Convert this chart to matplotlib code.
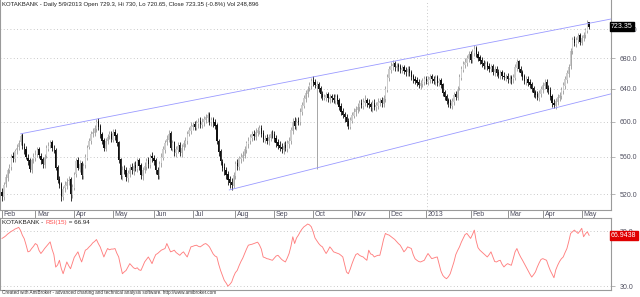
import numpy as np
import matplotlib
matplotlib.use('Agg')
import matplotlib.pyplot as plt
import matplotlib.transforms as mtrans

opens = [
522, 517, 531, 537, 546, 549, 561, 557, 567, 571,
576, 584, 571, 569, 559, 556, 546, 557, 559, 563,
568, 561, 557, 551, 561, 569, 573, 576, 569, 567,
549, 536, 531, 517, 526, 529, 534, 536, 519, 527,
541, 556, 547, 553, 539, 551, 559, 571, 577, 586,
587, 591, 601, 595, 586, 579, 569, 577, 583, 586,
579, 588, 584, 576, 557, 539, 547, 546, 537, 541,
549, 544, 551, 547, 556, 551, 539, 546, 549, 556,
551, 561, 559, 556, 546, 539, 553, 559, 567, 576,
579, 587, 569, 576, 564, 567, 573, 564, 571, 574,
577, 586, 589, 594, 597, 593, 597, 601, 596, 599,
602, 604, 609, 599, 603, 599, 596, 577, 566, 554,
549, 546, 541, 536, 533, 529, 539, 553, 549, 557,
559, 561, 567, 574, 577, 581, 586, 582, 587, 589,
593, 587, 579, 581, 577, 581, 586, 586, 581, 576,
573, 571, 567, 573, 569, 574, 577, 589, 601, 594,
601, 599, 611, 619, 627, 634, 641, 644, 651, 649,
644, 646, 641, 634, 629, 629, 633, 627, 631, 629,
625, 631, 626, 619, 613, 609, 606, 601, 594, 601,
607, 611, 614, 617, 623, 619, 623, 626, 623, 621,
616, 623, 617, 619, 623, 626, 621, 627, 639, 654,
664, 669, 673, 667, 671, 669, 664, 668, 664, 661,
666, 661, 656, 653, 651, 649, 644, 646, 649, 653,
649, 651, 656, 653, 649, 655, 647, 651, 646, 636,
631, 626, 623, 619, 624, 633, 629, 641, 654, 664,
671, 674, 679, 686, 677, 687, 693, 686, 681, 677,
673, 669, 673, 669, 665, 669, 661, 666, 661, 657,
661, 657, 654, 656, 651, 655, 652, 654, 667, 676,
666, 661, 656, 649, 653, 649, 646, 641, 636, 633,
629, 634, 639, 644, 649, 641, 639, 631, 623, 619,
624, 629, 631, 637, 644, 651, 659, 669, 689, 706,
699, 704, 711, 701, 707, 711, 717, 729.3]

highs = [
526, 533, 541, 548, 552, 563, 565, 569, 574, 579,
586, 587, 575, 572, 563, 559, 559, 564, 567, 571,
571, 564, 560, 563, 573, 576, 579, 579, 573, 570,
551, 539, 533, 529, 534, 537, 539, 538, 531, 543,
558, 560, 556, 555, 553, 563, 573, 581, 589, 592,
596, 603, 604, 597, 588, 581, 581, 586, 589, 589,
591, 591, 587, 578, 559, 550, 551, 549, 546, 552,
553, 554, 555, 558, 559, 553, 549, 554, 558, 560,
563, 565, 562, 558, 549, 555, 564, 572, 579, 584,
590, 589, 579, 578, 572, 576, 576, 574, 579, 582,
589, 594, 599, 600, 601, 602, 604, 605, 604, 607,
609, 612, 611, 606, 606, 603, 598, 580, 568, 557,
553, 549, 544, 539, 537, 543, 555, 557, 561, 564,
566, 572, 578, 582, 586, 589, 590, 592, 594, 596,
596, 590, 584, 585, 586, 589, 590, 589, 584, 580,
577, 575, 576, 577, 579, 582, 594, 604, 605, 604,
606, 616, 624, 632, 639, 644, 649, 654, 656, 652,
650, 649, 644, 637, 634, 636, 636, 634, 634, 633,
634, 634, 629, 622, 616, 612, 609, 604, 606, 612,
616, 619, 622, 626, 627, 628, 632, 629, 627, 624,
626, 627, 624, 628, 629, 630, 632, 644, 659, 670,
675, 677, 676, 674, 674, 672, 671, 671, 668, 669,
669, 664, 659, 657, 655, 652, 651, 654, 656, 657,
656, 659, 659, 657, 658, 658, 654, 654, 648, 639,
634, 629, 627, 629, 636, 637, 644, 659, 669, 676,
680, 684, 690, 689, 692, 697, 696, 689, 684, 681,
677, 676, 676, 673, 672, 672, 669, 669, 665, 664,
664, 661, 659, 660, 658, 658, 659, 672, 679, 678,
669, 664, 659, 656, 656, 652, 649, 644, 639, 637,
639, 644, 649, 652, 652, 645, 642, 634, 627, 629,
634, 636, 642, 649, 656, 664, 672, 694, 709, 710,
709, 714, 714, 712, 716, 722, 733, 730]

lows = [
513, 514, 528, 534, 542, 546, 554, 554, 563, 567,
573, 569, 563, 557, 551, 543, 542, 553, 555, 560,
558, 552, 548, 548, 558, 566, 570, 566, 564, 545,
532, 526, 513, 514, 522, 525, 530, 513, 516, 524,
538, 545, 543, 536, 536, 548, 556, 568, 574, 582,
583, 588, 590, 581, 574, 566, 566, 574, 580, 576,
576, 579, 572, 553, 536, 535, 541, 534, 533, 538,
541, 540, 544, 543, 546, 536, 535, 542, 546, 548,
548, 554, 551, 541, 536, 536, 549, 556, 564, 573,
576, 567, 566, 561, 560, 564, 561, 560, 567, 571,
574, 583, 586, 590, 590, 590, 593, 593, 592, 595,
598, 600, 596, 595, 594, 591, 574, 561, 551, 544,
540, 536, 530, 527, 524, 526, 536, 546, 546, 553,
555, 558, 564, 570, 574, 578, 579, 579, 583, 585,
582, 576, 575, 574, 573, 577, 581, 576, 571, 568,
566, 564, 563, 566, 565, 570, 574, 586, 591, 590,
596, 596, 608, 616, 624, 630, 637, 640, 644, 641,
547, 636, 629, 626, 626, 625, 624, 623, 624, 622,
621, 621, 614, 608, 604, 600, 595, 591, 591, 598,
604, 607, 610, 613, 616, 615, 619, 618, 616, 613,
612, 614, 613, 615, 619, 618, 617, 624, 636, 650,
660, 664, 663, 663, 663, 660, 660, 659, 657, 657,
656, 651, 648, 646, 644, 641, 640, 642, 645, 646,
645, 647, 648, 646, 645, 644, 643, 641, 631, 626,
621, 618, 616, 615, 620, 626, 626, 638, 651, 661,
667, 670, 675, 674, 674, 683, 681, 676, 672, 668,
666, 665, 664, 662, 661, 658, 657, 656, 654, 653,
652, 651, 650, 648, 647, 646, 648, 651, 663, 661,
656, 651, 646, 645, 644, 641, 636, 630, 628, 626,
625, 630, 635, 640, 636, 633, 626, 617, 616, 615,
620, 625, 627, 633, 640, 647, 655, 666, 686, 696,
695, 700, 698, 697, 703, 707, 714, 720.65]

closes = [
518, 530, 538, 545, 548, 560, 558, 566, 570, 575,
583, 572, 568, 560, 555, 547, 556, 560, 562, 567,
562, 556, 552, 560, 570, 572, 575, 570, 568, 548,
535, 530, 518, 525, 530, 533, 535, 520, 528, 540,
555, 548, 552, 540, 550, 560, 570, 578, 585, 588,
592, 600, 594, 585, 578, 570, 578, 582, 585, 580,
587, 583, 575, 556, 540, 546, 545, 538, 542, 548,
545, 550, 548, 555, 550, 540, 545, 550, 555, 552,
560, 558, 555, 545, 540, 552, 560, 568, 575, 580,
586, 570, 575, 565, 568, 572, 565, 570, 575, 578,
585, 590, 595, 596, 594, 598, 600, 597, 600, 603,
605, 608, 600, 602, 598, 595, 578, 565, 555, 548,
545, 540, 535, 532, 530, 540, 552, 550, 558, 560,
562, 568, 575, 578, 582, 585, 583, 588, 590, 592,
586, 580, 580, 578, 582, 585, 585, 580, 575, 572,
570, 568, 572, 570, 575, 578, 590, 600, 595, 600,
600, 612, 620, 628, 635, 640, 645, 650, 648, 645,
645, 640, 633, 630, 630, 632, 628, 630, 628, 626,
630, 625, 618, 612, 608, 605, 600, 595, 602, 608,
612, 615, 618, 622, 620, 624, 625, 622, 620, 617,
622, 618, 620, 624, 625, 622, 628, 640, 655, 665,
670, 672, 668, 670, 668, 665, 667, 663, 662, 665,
660, 655, 652, 650, 648, 645, 647, 650, 652, 650,
652, 655, 652, 650, 654, 648, 650, 645, 635, 630,
625, 622, 620, 625, 632, 630, 640, 655, 665, 672,
675, 680, 685, 678, 688, 692, 685, 680, 676, 672,
670, 672, 668, 666, 668, 662, 665, 660, 658, 660,
656, 655, 655, 652, 654, 653, 655, 668, 675, 665,
660, 655, 650, 652, 648, 645, 640, 635, 632, 630,
635, 640, 645, 648, 640, 638, 630, 622, 620, 625,
630, 632, 638, 645, 652, 660, 668, 690, 705, 700,
705, 710, 702, 708, 712, 718, 729.2, 723.35]

rsi15 = [
64.7, 65.5, 66.5, 67.8, 68.8, 69.8, 70.5, 71.5, 72.0, 72.7,
70.5, 67.0, 64.5, 60.0, 55.0, 55.5, 57.4, 59.0, 61.0, 60.0,
56.0, 53.8, 55.5, 57.4, 59.0, 60.5, 62.2, 57.0, 53.0, 44.0,
45.5, 48.9, 43.0, 39.2, 43.5, 47.7, 45.0, 42.8, 47.0, 51.0,
53.0, 55.0, 51.0, 47.7, 52.0, 56.2, 57.0, 58.5, 59.8, 61.5,
62.5, 63.9, 61.0, 58.6, 55.0, 51.3, 54.5, 57.4, 56.5, 57.0,
57.0, 57.4, 54.0, 51.3, 45.0, 39.2, 40.5, 41.6, 44.0, 46.5,
45.0, 43.5, 42.8, 43.5, 42.0, 41.6, 44.5, 47.7, 49.5, 51.3,
49.0, 46.5, 50.0, 53.0, 53.8, 55.0, 56.2, 56.8, 57.4, 61.0,
58.0, 55.0, 55.5, 56.2, 54.5, 53.5, 52.5, 54.0, 55.0, 53.0,
51.3, 55.0, 58.6, 59.0, 59.5, 59.8, 59.0, 58.6, 59.5, 60.5,
61.0, 60.0, 58.6, 56.0, 53.5, 52.0, 51.3, 46.0, 41.6, 38.0,
34.4, 32.5, 30.2, 31.5, 33.2, 37.0, 40.0, 41.6, 45.0, 48.0,
50.5, 53.8, 57.0, 59.8, 60.2, 60.5, 61.0, 61.5, 62.0, 60.0,
57.0, 51.3, 50.8, 50.1, 49.8, 49.3, 48.9, 50.5, 52.0, 52.5,
51.0, 49.5, 48.5, 47.7, 50.5, 53.8, 59.0, 65.9, 61.0, 65.0,
67.0, 69.5, 71.5, 73.1, 74.0, 75.1, 74.5, 73.1, 69.5, 65.0,
63.0, 61.0, 59.5, 58.6, 56.0, 53.8, 56.0, 58.6, 57.0, 55.0,
54.5, 54.0, 53.5, 52.5, 51.3, 46.0, 40.4, 39.2, 42.5, 46.5,
50.0, 53.0, 53.8, 52.5, 51.8, 51.3, 50.0, 48.9, 56.2, 53.5,
53.0, 51.3, 52.0, 52.5, 52.5, 58.0, 64.0, 68.3, 67.5, 67.1,
66.0, 65.0, 64.0, 62.5, 61.0, 59.8, 57.5, 55.0, 56.5, 58.6,
58.0, 57.4, 53.0, 50.0, 48.9, 48.0, 47.7, 48.3, 48.9, 51.5,
53.8, 52.0, 50.1, 50.5, 51.0, 51.3, 46.0, 41.0, 38.0, 36.5,
35.6, 37.0, 39.2, 43.5, 47.7, 53.0, 56.0, 58.6, 62.0, 64.7,
67.5, 68.3, 66.5, 64.7, 67.5, 70.7, 63.0, 58.0, 56.2, 55.0,
53.8, 52.5, 51.3, 53.0, 55.0, 51.5, 48.0, 47.7, 48.5, 48.9,
46.0, 44.1, 45.5, 46.5, 45.8, 45.3, 50.0, 55.0, 57.4, 54.0,
51.3, 49.0, 46.5, 44.0, 41.6, 39.0, 36.8, 38.5, 40.5, 44.0,
47.0, 49.5, 50.1, 49.5, 48.9, 45.0, 41.6, 39.0, 36.3, 42.0,
45.3, 48.0, 50.0, 51.3, 54.5, 57.4, 62.5, 68.3, 69.5, 70.7,
69.5, 68.3, 70.0, 72.0, 65.9, 68.0, 69.5, 66.94]

month_labels = ['Feb', 'Mar', 'Apr', 'May', 'Jun', 'Jul', 'Aug', 'Sep', 'Oct',
                'Nov', 'Dec', '2013', 'Feb', 'Mar', 'Apr', 'May']
month_start_bar = [0, 18, 39, 60, 82, 103, 126, 147, 168, 189, 209, 229, 253, 273, 292, 313]
price_ticks = [520, 560, 600, 640, 680, 720]
rsi_ticks = [30, 70]
upper_channel_bar = [10.1, 328.8]
upper_channel_price = [585.8, 734.3]
lower_channel_bar = [122.7, 328.8]
lower_channel_price = [524.5, 633.7]

title_text = "KOTAKBANK - Daily 5/9/2013 Open 729.3, Hi 730, Lo 720.65, Close 723.35 (-0.8%) Vol 248,896"
last_close_label = "723.35"
last_rsi_label = "66.9438"
footer_text = "Created with AmiBroker - advanced charting and technical analysis software. http://www.amibroker.com"

n = len(closes)
assert len(opens) == n and len(highs) == n and len(lows) == n and len(rsi15) == n

plt.rcParams['font.family'] = ['Liberation Sans', 'DejaVu Sans']

W, H = 640, 297
fig = plt.figure(figsize=(W / 100, H / 100), dpi=100)
fig.patch.set_facecolor('white')

def fy(px):
    return 1 - px / H

pane_right = 611 / W
ax = fig.add_axes([0, fy(210), pane_right, 210 / H])
axr = fig.add_axes([0, fy(289.5), pane_right, (289.5 - 218) / H])

spine_col = '#9a9a9a'
grid_col = '#b8b8b8'
label_col = '#505060'

# ---------------- main price pane ----------------
idx = np.arange(n)
o = np.array(opens, float); h = np.array(highs, float)
l = np.array(lows, float); c = np.array(closes, float)
up = c >= o
ax.vlines(idx[up], l[up], h[up], color='#a0a0a0', lw=0.65, zorder=3)
ax.bar(idx[up], (c - o)[up], bottom=o[up], width=0.7, color='#cccccc',
       edgecolor='none', zorder=3)
ax.vlines(idx[~up], l[~up], h[~up], color='#101010', lw=0.6, zorder=4)
ax.bar(idx[~up], (o - c)[~up], bottom=c[~up], width=0.7, color='#101010',
       edgecolor='none', zorder=4)

ax.plot(upper_channel_bar, upper_channel_price, color='#9a9aff', lw=0.6, zorder=5)
ax.plot(lower_channel_bar, lower_channel_price, color='#9a9aff', lw=0.6, zorder=5)

ax.set_yscale('log')
ax.set_ylim(504.2, 762.3)
ax.set_xlim(-1.08, 328.8)
ax.set_yticks(price_ticks)
ax.set_yticks([], minor=True)
ax.set_yticklabels(['%.1f' % v for v in price_ticks])
ax.yaxis.tick_right()
ax.tick_params(axis='y', which='both', direction='out', length=3, width=0.5,
               color=spine_col, labelsize=5, labelcolor=label_col, pad=3)
ax.set_xticks([])
for v in price_ticks:
    ax.axhline(v, color=grid_col, lw=0.6, ls=(0, (1, 3)), zorder=1)
ax.axvline(month_start_bar[11] + 0.5, color=grid_col, lw=0.6, ls=(0, (1, 3)), zorder=1)

for name, sp in ax.spines.items():
    sp.set_color(spine_col)
    sp.set_linewidth(0.8)
ax.spines['top'].set_visible(False)

ax.text(2 / 611, 1 - 4.5 / 210, title_text, transform=ax.transAxes, fontsize=4.3,
        color='#202020', ha='left', va='center')

ax.text(1.0, c[-1], last_close_label, transform=mtrans.blended_transform_factory(ax.transAxes, ax.transData),
        ha='left', va='center', fontsize=5, color='white', clip_on=False, zorder=10,
        bbox=dict(boxstyle='square,pad=0.15', fc='black', ec='black'))

# date strip
bt = mtrans.blended_transform_factory(ax.transData, ax.transAxes)
for lab, b in zip(month_labels, month_start_bar):
    ax.plot([b, b], [0, -6.5 / 210], transform=bt, color='#808080', lw=0.6, clip_on=False)
    ax.text(b + 0.9, -4.3 / 210, lab, transform=bt, fontsize=5, color=label_col,
            ha='left', va='center', clip_on=False)

# ---------------- RSI pane ----------------
axr.plot(idx, rsi15, color='#ff8080', lw=0.65, zorder=3)
axr.set_xlim(-1.08, 328.8)
axr.set_ylim(27.8, 79.45)
axr.set_xticks([])
axr.set_yticks(rsi_ticks)
axr.set_yticklabels(['%.1f' % v for v in rsi_ticks])
axr.yaxis.tick_right()
axr.tick_params(axis='y', direction='out', length=3, width=0.5, color=spine_col,
                labelsize=5, labelcolor=label_col, pad=3)
for v in rsi_ticks:
    axr.axhline(v, color=grid_col, lw=0.6, ls=(0, (1, 3)), zorder=1)
for name, sp in axr.spines.items():
    sp.set_color(spine_col)
    sp.set_linewidth(0.8)

t1 = axr.text(2 / 611, 1 - 4.5 / 71.5, "KOTAKBANK - ", transform=axr.transAxes,
              fontsize=4.5, color='#202020', ha='left', va='center')
fig.canvas.draw()
r = fig.canvas.get_renderer()
bb = t1.get_window_extent(r)
x1 = axr.transAxes.inverted().transform((bb.x1, bb.y0))[0]
t2 = axr.text(x1, 1 - 4.5 / 71.5, "RSI(15)", transform=axr.transAxes,
              fontsize=4.5, color='#ff5050', ha='left', va='center')
bb2 = t2.get_window_extent(r)
x2 = axr.transAxes.inverted().transform((bb2.x1, bb2.y0))[0]
axr.text(x2, 1 - 4.5 / 71.5, " = 66.94", transform=axr.transAxes,
         fontsize=4.5, color='#202020', ha='left', va='center')

axr.text(1.0, rsi15[-1], last_rsi_label,
         transform=mtrans.blended_transform_factory(axr.transAxes, axr.transData),
         ha='left', va='center', fontsize=5, color='white', clip_on=False, zorder=10,
         bbox=dict(boxstyle='square,pad=0.15', fc='#e00000', ec='#e00000'))

fig.text(2 / W, fy(292.5), footer_text, fontsize=3.3, color='#303030', ha='left', va='center')

fig.savefig('out.png', dpi=100, facecolor='white')
